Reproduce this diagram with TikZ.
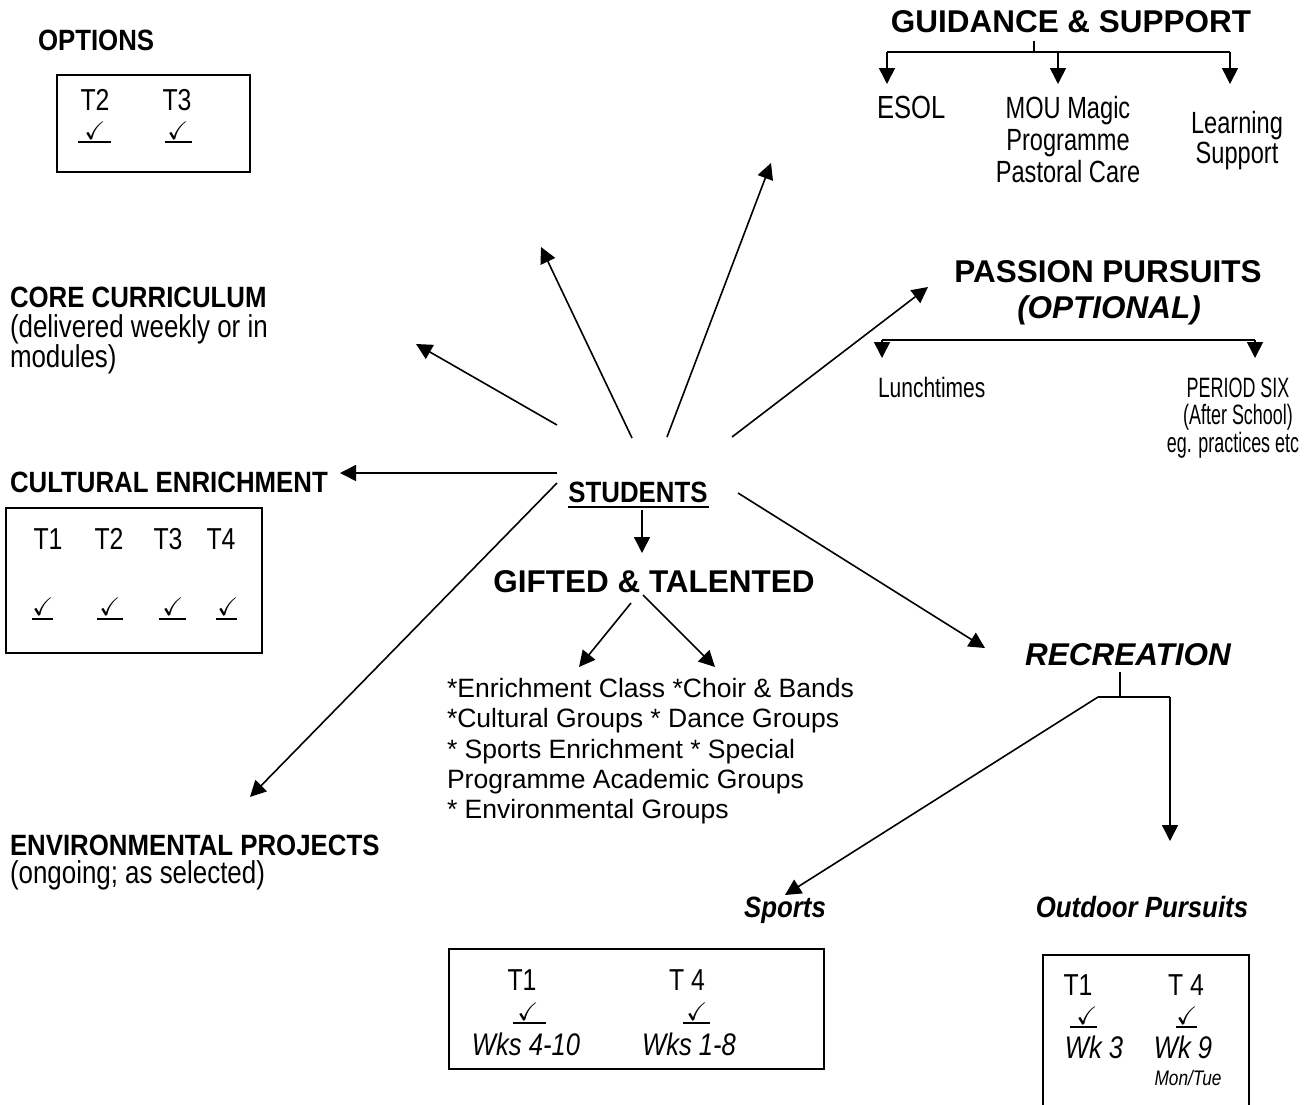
\documentclass[tikz,border=0pt]{standalone}
\usepackage{fontspec}
\setmainfont{Liberation Sans}
\usepackage{amssymb}
\usetikzlibrary{arrows.meta}
\begin{document}
\begin{tikzpicture}[x=0.75pt,y=-0.75pt,
  txt/.style={inner sep=0pt, outer sep=0pt},
  ttl/.style={txt, font=\fontsize{23.6}{28}\bfseries},
  ttli/.style={txt, font=\fontsize{23.6}{28}\bfseries\itshape},
  hd/.style={txt, font=\fontsize{22}{26}\bfseries\addfontfeature{FakeStretch=0.88}},
  hdi/.style={txt, font=\fontsize{22}{26}\bfseries\itshape\addfontfeature{FakeStretch=0.88}},
  nr/.style={txt, font=\fontsize{23}{27}\selectfont\addfontfeature{FakeStretch=0.77}},
  esolf/.style={txt, font=\fontsize{24}{28}\selectfont\addfontfeature{FakeStretch=0.80}},
  lu/.style={txt, font=\fontsize{21}{25}\selectfont\addfontfeature{FakeStretch=0.75}},
  ps/.style={txt, font=\fontsize{21}{25}\selectfont\addfontfeature{FakeStretch=0.64}},
  nrl/.style={txt, font=\fontsize{23.7}{28}\selectfont\addfontfeature{FakeStretch=0.82}},
  tl/.style={txt, font=\fontsize{22.7}{27}\selectfont\addfontfeature{FakeStretch=0.82}},
  wk/.style={txt, font=\fontsize{23.4}{28}\itshape\addfontfeature{FakeStretch=0.82}},
  mon/.style={txt, font=\fontsize{15.8}{18}\itshape\addfontfeature{FakeStretch=0.82}},
  lst/.style={txt, font=\fontsize{19.9}{23}\selectfont},
  chk/.style={txt, font=\fontsize{19}{19}\selectfont},
  ul/.style={line width=1.6pt},
  box/.style={line width=1.5pt},
  ln/.style={line width=1.2pt},
  arr/.style={line width=1.2pt, -{Triangle[length=12pt,width=12pt]}}
]
\useasboundingbox (0,0) rectangle (1309,1104);

% ---------- OPTIONS ----------
\node[hd, anchor=base west] (opt) at (38,50) {OPTIONS};
\draw[box] (57,75) rectangle (250,172);
\node[tl, anchor=base] (optT2) at (95,110) {T2};
\node[tl, anchor=base] (optT3) at (177,110) {T3};
\node[chk, anchor=south] (optC2) at (95,139) {$\checkmark$};
\node[chk, anchor=south] (optC3) at (178,139) {$\checkmark$};
\draw[ul] (78,142) -- (111,142);
\draw[ul] (165,142) -- (192,142);

% ---------- CORE CURRICULUM ----------
\node[hd, anchor=base west] (core) at (10,307) {CORE CURRICULUM};
\node[nrl, anchor=base west] (core2) at (10,337) {(delivered weekly or in};
\node[nrl, anchor=base west] (core3) at (10,367) {modules)};

% ---------- CULTURAL ENRICHMENT ----------
\node[hd, anchor=base west] (cult) at (10,492) {CULTURAL ENRICHMENT};
\draw[box] (6,508) rectangle (262,653);
\node[tl, anchor=base] (cT1) at (48,549) {T1};
\node[tl, anchor=base] (cT2) at (109,549) {T2};
\node[tl, anchor=base] (cT3) at (168,549) {T3};
\node[tl, anchor=base] (cT4) at (221,549) {T4};
\node[chk, anchor=south] (cC1) at (43,615) {$\checkmark$};
\node[chk, anchor=south] (cC2) at (110,615) {$\checkmark$};
\node[chk, anchor=south] (cC3) at (173,615) {$\checkmark$};
\node[chk, anchor=south] (cC4) at (228,615) {$\checkmark$};
\draw[ul] (32,619) -- (53,619);
\draw[ul] (97,619) -- (123,619);
\draw[ul] (159,619) -- (186,619);
\draw[ul] (216,619) -- (237,619);

% ---------- ENVIRONMENTAL ----------
\node[hd, anchor=base west] (env) at (10,855) {ENVIRONMENTAL PROJECTS};
\node[nrl, anchor=base west] (env2) at (10,883) {(ongoing; as selected)};

% ---------- STUDENTS & GIFTED ----------
\node[hd, anchor=base] (stu) at (638,502) {STUDENTS};
\draw[ul] (568,507) -- (709,507);
\node[ttl, anchor=base] (gt) at (654,592) {GIFTED \& TALENTED};
\node[lst, anchor=base west] (l1) at (447,697) {*Enrichment Class *Choir \& Bands};
\node[lst, anchor=base west] (l2) at (447,727) {*Cultural Groups * Dance Groups};
\node[lst, anchor=base west] (l3) at (447,758) {* Sports Enrichment * Special};
\node[lst, anchor=base west] (l4) at (447,788) {Programme Academic Groups};
\node[lst, anchor=base west] (l5) at (447,818) {* Environmental Groups};

% ---------- GUIDANCE ----------
\node[ttl, anchor=base] (gs) at (1071,32) {GUIDANCE \& SUPPORT};
\node[esolf, anchor=base west] (esol) at (877,118) {ESOL};
\node[nr, anchor=base] (mou1) at (1068,118) {MOU Magic};
\node[nr, anchor=base] (mou2) at (1068,150) {Programme};
\node[nr, anchor=base] (mou3) at (1068,182) {Pastoral Care};
\node[nr, anchor=base] (ls1) at (1237,133) {Learning};
\node[nr, anchor=base] (ls2) at (1237,163) {Support};
\coordinate (gsT) at (1034,41);
\coordinate (gsJ) at (1034,52);
\coordinate (gsL) at (887,52);
\coordinate (gsM) at (1058,52);
\coordinate (gsR) at (1230,52);
\draw[ln] (gsT) -- (gsJ);
\draw[ln] (gsL) -- (gsR);
\draw[arr] (gsL) -- (887,84);
\draw[arr] (gsM) -- (1058,84);
\draw[arr] (gsR) -- (1230,84);

% ---------- PASSION ----------
\node[ttl, anchor=base] (pp) at (1108,282) {PASSION PURSUITS};
\node[ttli, anchor=base] (ppo) at (1109,318) {(OPTIONAL)};
\node[lu, anchor=base west] (lunch) at (878,397) {Lunchtimes};
\node[ps, anchor=base] (p6a) at (1238,397) {PERIOD SIX};
\node[ps, anchor=base] (p6b) at (1238,424) {(After School)};
\node[ps, anchor=base] (p6c) at (1233,452) {eg. practices etc};
\coordinate (ppL) at (882,340);
\coordinate (ppR) at (1255,340);
\draw[ln] (ppL) -- (ppR);
\draw[arr] (ppL) -- (882,358);
\draw[arr] (ppR) -- (1255,358);

% ---------- RECREATION ----------
\node[ttli, anchor=base] (rec) at (1128,665) {RECREATION};
\coordinate (rT) at (1120,672);
\coordinate (rJ) at (1120,697);
\coordinate (rL) at (1098,697);
\coordinate (rR) at (1170,697);
\draw[ln] (rT) -- (rJ);
\draw[ln] (rL) -- (rR);
\node[hdi, anchor=base] (sports) at (785,917) {Sports};
\node[hdi, anchor=base] (outd) at (1142,917) {Outdoor Pursuits};
\coordinate (sportsTip) at (785,895);
\coordinate (outdTip) at (1170,841);
\draw[arr] (rL) -- (sportsTip);
\draw[arr] (rR) -- (outdTip);

% Sports box
\draw[box] (449,949) rectangle (824,1069);
\node[tl, anchor=base] (sT1) at (522,990) {T1};
\node[tl, anchor=base] (sT4) at (687,990) {T 4};
\node[chk, anchor=south] (sC1) at (528,1020) {$\checkmark$};
\node[chk, anchor=south] (sC4) at (697,1020) {$\checkmark$};
\draw[ul] (513,1023) -- (546,1023);
\draw[ul] (683,1023) -- (710,1023);
\node[wk, anchor=base] (sW1) at (526,1055) {Wks 4-10};
\node[wk, anchor=base] (sW4) at (689,1055) {Wks 1-8};

% Outdoor box
\draw[box] (1043,1110) -- (1043,955) -- (1249,955) -- (1249,1110);
\node[tl, anchor=base] (oT1) at (1078,995) {T1};
\node[tl, anchor=base] (oT4) at (1186,995) {T 4};
\node[chk, anchor=south] (oC1) at (1087,1024) {$\checkmark$};
\node[chk, anchor=south] (oC4) at (1187,1024) {$\checkmark$};
\draw[ul] (1070,1027) -- (1097,1027);
\draw[ul] (1176,1027) -- (1197,1027);
\node[wk, anchor=base] (oW1) at (1094,1058) {Wk 3};
\node[wk, anchor=base] (oW4) at (1183,1058) {Wk 9};
\node[mon, anchor=base] (oMon) at (1188,1085) {Mon/Tue};

% ---------- ARROWS FROM STUDENTS ----------
\coordinate (sCore) at (557,425);
\coordinate (tCore) at (416,344);
\coordinate (sUL) at (632,438);
\coordinate (tUL) at (541,247);
\coordinate (sUR) at (667,437);
\coordinate (tUR) at (771,163);
\coordinate (sPP) at (732,437);
\coordinate (tPP) at (928,287);
\coordinate (sCult) at (557,473);
\coordinate (tCult) at (340,473);
\coordinate (sEnv) at (557,483);
\coordinate (tEnv) at (250,797);
\coordinate (sRec) at (738,493);
\coordinate (tRec) at (985,648);
\draw[arr] (sCore) -- (tCore);
\draw[arr] (sUL) -- (tUL);
\draw[arr] (sUR) -- (tUR);
\draw[arr] (sPP) -- (tPP);
\draw[arr] (sCult) -- (tCult);
\draw[arr] (sEnv) -- (tEnv);
\draw[arr] (sRec) -- (tRec);

% STUDENTS -> GIFTED
\coordinate (sG) at (642,510);
\coordinate (tG) at (642,553);
\draw[arr] (sG) -- (tG);
\coordinate (gL) at (631,603);
\coordinate (gLt) at (579,667);
\coordinate (gR) at (643,595);
\coordinate (gRt) at (715,667);
\draw[arr] (gL) -- (gLt);
\draw[arr] (gR) -- (gRt);
\end{tikzpicture}
\end{document}
